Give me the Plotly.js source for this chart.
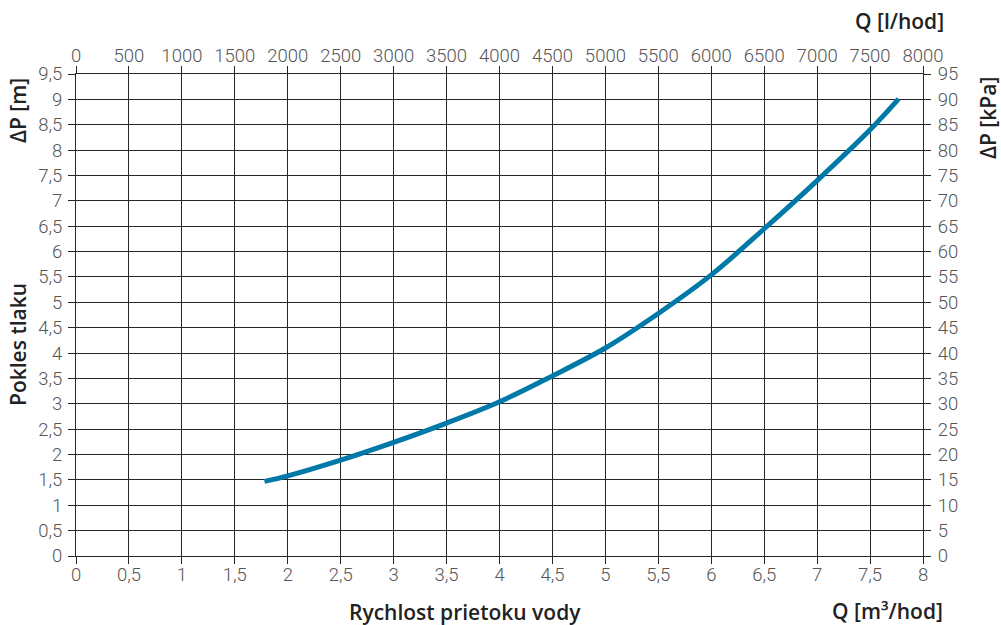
<!DOCTYPE html>
<html>
<head>
<meta charset="utf-8">
<script src="https://cdn.plot.ly/plotly-3.0.1.min.js"></script>
<style>html,body{margin:0;padding:0;background:#fff;}#chart{width:1001px;height:625px;}</style>
</head>
<body>
<div id="chart"></div>
<script>
// Flow rate [m3/hod] and pressure drop [m]
const flowM3 = [1.78, 2.0, 2.5, 3.0, 3.5, 4.0, 4.5, 5.0, 5.5, 6.0, 6.5, 7.0, 7.5, 7.77];
const dropM  = [1.47, 1.58, 1.89, 2.24, 2.62, 3.04, 3.55, 4.10, 4.78, 5.54, 6.45, 7.40, 8.40, 9.01];

const titleLeftTop = "ΔP [m]";
const titleLeft = "Pokles tlaku";
const titleRight = "ΔP [kPa]";
const titleTop = "Q [l/hod]";
const titleBottom = "Rychlost prietoku vody";
const titleBottomRight = "Q [m³/hod]";

const gridColor = "#262626";
const tickFont = {family: "Roboto, sans-serif", size: 18.5, color: "#555", weight: 300};
const titleFont = {family: "Open Sans, sans-serif", size: 21, color: "#222", weight: 600};

const axisCommon = {
  showgrid: true, gridcolor: gridColor, gridwidth: 1,
  showline: true, linecolor: gridColor, linewidth: 1, mirror: false,
  ticks: "outside", ticklen: 7, tickcolor: gridColor, tickwidth: 1,
  zeroline: false, tickfont: tickFont, fixedrange: true, ticklabelstandoff: 0
};

const data = [
  {x: flowM3, y: dropM, type: "scatter", mode: "lines",
   line: {color: "#0079a8", width: 5, shape: "spline"}, hoverinfo: "skip", xaxis: "x", yaxis: "y"},
  {x: [0, 8000], y: [0, 95], type: "scatter", mode: "markers", marker: {opacity: 0},
   xaxis: "x2", yaxis: "y2", hoverinfo: "skip"}
];

function px2x(p) { return (p - 76) / 847; }
function px2y(p) { return (556 - p) / 482; }

const layout = {
  width: 1001, height: 625,
  margin: {l: 76, r: 78, t: 74, b: 69},
  paper_bgcolor: "#fff", plot_bgcolor: "#fff",
  showlegend: false,
  separators: ", ",
  xaxis: Object.assign({}, axisCommon, {range: [0, 8], dtick: 0.5, tick0: 0, side: "bottom", ticklabelstandoff: -5}),
  xaxis2: Object.assign({}, axisCommon, {range: [0, 8000], dtick: 500, tick0: 0, side: "top", overlaying: "x", showgrid: false, anchor: "y", ticklabelstandoff: -3}),
  yaxis: Object.assign({}, axisCommon, {range: [0, 9.5], dtick: 0.5, tick0: 0, side: "left", ticklabelstandoff: 2}),
  yaxis2: Object.assign({}, axisCommon, {range: [0, 95], dtick: 5, tick0: 0, side: "right", overlaying: "y", showgrid: false, anchor: "x", ticklabelstandoff: 3}),
  annotations: [
    {text: titleLeftTop, xref: "paper", yref: "paper", x: px2x(18), y: px2y(111), textangle: -90, showarrow: false, font: titleFont, xanchor: "center", yanchor: "middle"},
    {text: titleLeft, xref: "paper", yref: "paper", x: px2x(18), y: px2y(345), textangle: -90, showarrow: false, font: titleFont, xanchor: "center", yanchor: "middle"},
    {text: titleRight, xref: "paper", yref: "paper", x: px2x(988), y: px2y(118), textangle: -90, showarrow: false, font: titleFont, xanchor: "center", yanchor: "middle"},
    {text: titleTop, xref: "paper", yref: "paper", x: px2x(899), y: px2y(21), showarrow: false, font: titleFont, xanchor: "center", yanchor: "middle"},
    {text: titleBottom, xref: "paper", yref: "paper", x: px2x(465), y: px2y(612), showarrow: false, font: titleFont, xanchor: "center", yanchor: "middle"},
    {text: titleBottomRight, xref: "paper", yref: "paper", x: px2x(887), y: px2y(611), showarrow: false, font: titleFont, xanchor: "center", yanchor: "middle"}
  ]
};

Plotly.newPlot("chart", data, layout, {displayModeBar: false, staticPlot: true});
</script>
</body>
</html>
